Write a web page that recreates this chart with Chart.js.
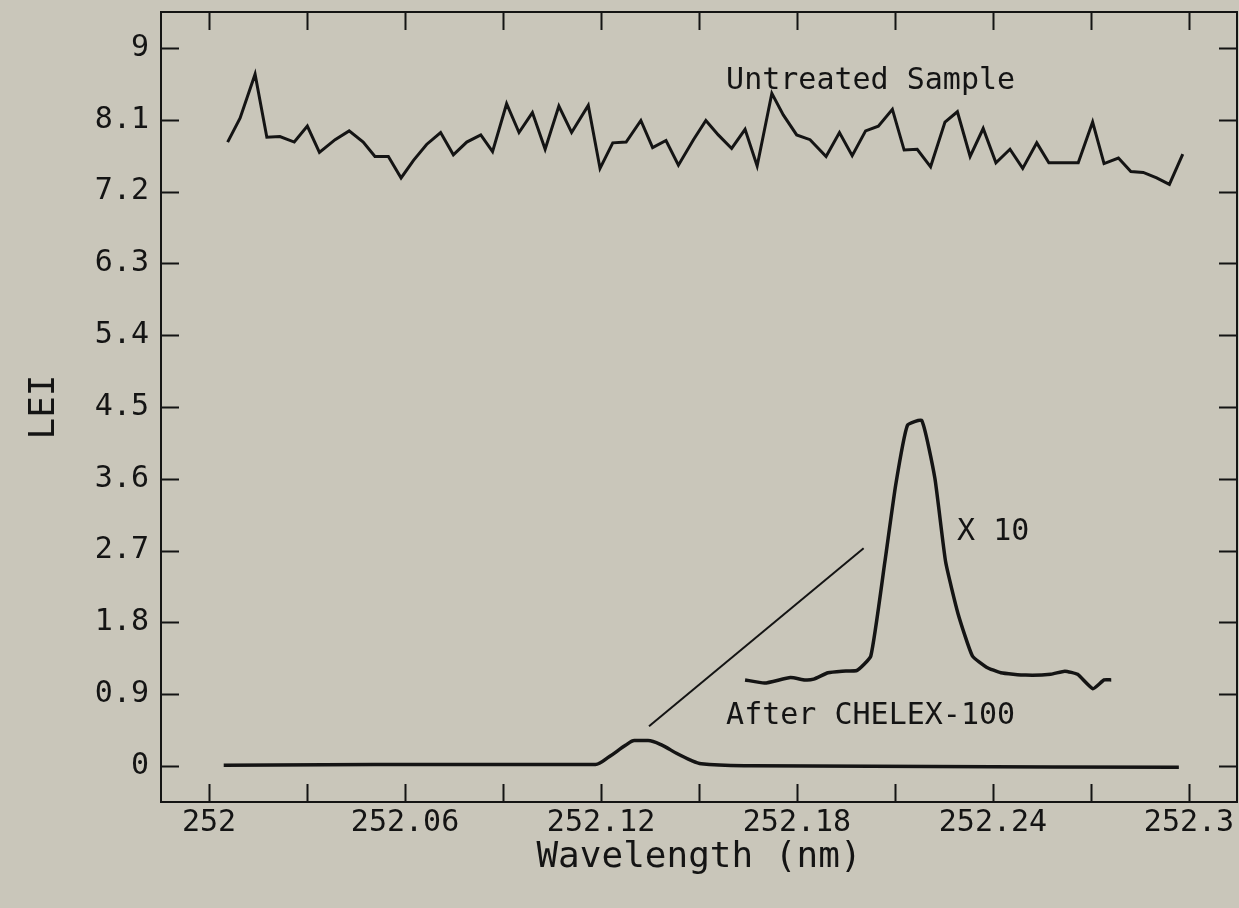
<!DOCTYPE html>
<html>
<head>
<meta charset="utf-8">
<script src="https://cdn.jsdelivr.net/npm/chart.js@4/dist/chart.umd.min.js"></script>
<style>
  html, body { margin: 0; padding: 0; background: #c9c6ba; }
  #wrap { width: 1239px; height: 908px; }
</style>
</head>
<body>
<div id="wrap"><canvas id="grafico"></canvas></div>
<script>
// eixos
const wavelengthTicks = [252, 252.03, 252.06, 252.09, 252.12, 252.15, 252.18, 252.21, 252.24, 252.27, 252.3];
const wavelengthLabels = ['252', '', '252.06', '', '252.12', '', '252.18', '', '252.24', '', '252.3'];
const leiTicks = [0, 0.9, 1.8, 2.7, 3.6, 4.5, 5.4, 6.3, 7.2, 8.1, 9];
const leiLabels = ['0', '0.9', '1.8', '2.7', '3.6', '4.5', '5.4', '6.3', '7.2', '8.1', '9'];

// Untreated Sample
const untreatedWl = [252.0057, 252.0095, 252.0141, 252.0177, 252.0217, 252.0261, 252.0301, 252.0338, 252.0386, 252.0429,
    252.0472, 252.0508, 252.0549, 252.0588, 252.0626, 252.0666, 252.0709, 252.0748, 252.0789, 252.0832,
    252.0868, 252.0911, 252.0949, 252.0990, 252.1029, 252.1071, 252.1110, 252.1161, 252.1197, 252.1236,
    252.1277, 252.1322, 252.1358, 252.1399, 252.1437, 252.1483, 252.1521, 252.1559, 252.1600, 252.1641,
    252.1678, 252.1723, 252.1758, 252.1799, 252.1840, 252.1889, 252.1930, 252.1969, 252.2010, 252.2049,
    252.2092, 252.2128, 252.2168, 252.2209, 252.2253, 252.2291, 252.2330, 252.2370, 252.2409, 252.2452,
    252.2491, 252.2534, 252.2571, 252.2615, 252.2661, 252.2705, 252.2740, 252.2784, 252.2822, 252.2860,
    252.2901, 252.2940, 252.2981];
const untreatedLei = [7.82, 8.12, 8.67, 7.88, 7.89, 7.82, 8.02, 7.69, 7.85, 7.96,
    7.82, 7.64, 7.64, 7.37, 7.59, 7.79, 7.94, 7.66, 7.82, 7.91,
    7.70, 8.30, 7.94, 8.19, 7.73, 8.27, 7.94, 8.28, 7.49, 7.81,
    7.82, 8.09, 7.75, 7.84, 7.53, 7.85, 8.09, 7.91, 7.74, 7.98,
    7.52, 8.43, 8.16, 7.91, 7.85, 7.64, 7.94, 7.65, 7.96, 8.02,
    8.23, 7.72, 7.73, 7.51, 8.07, 8.20, 7.64, 7.99, 7.56, 7.73,
    7.49, 7.81, 7.56, 7.56, 7.56, 8.07, 7.55, 7.62, 7.45, 7.44,
    7.37, 7.29, 7.67];

// After CHELEX-100
const chelexWl = [252.0045, 252.0507, 252.1183, 252.1226, 252.1275, 252.1302, 252.1344, 252.1388, 252.1431, 252.1474, 252.1507, 252.1660, 252.2969];
const chelexLei = [0.01, 0.02, 0.02, 0.12, 0.26, 0.32, 0.32, 0.26, 0.16, 0.075, 0.03, 0.005, -0.015];

// X 10
const x10Wl = [252.1641, 252.1701, 252.1780, 252.1824, 252.1851, 252.1895, 252.1938, 252.1984, 252.2026, 252.2069,
    252.2102, 252.2138, 252.2182, 252.2222, 252.2255, 252.2293, 252.2337, 252.2380, 252.2424, 252.2500,
    252.2577, 252.2620, 252.2659, 252.2706, 252.2740, 252.2762];
const x10Lei = [1.08, 1.04, 1.11, 1.08, 1.09, 1.17, 1.19, 1.20, 1.38, 2.56,
    3.52, 4.27, 4.33, 3.61, 2.56, 1.91, 1.38, 1.24, 1.17, 1.14,
    1.15, 1.19, 1.15, 0.97, 1.08, 1.08];

// linha indicadora
const pointerWl = [252.1347, 252.2004];
const pointerLei = [0.50, 2.73];

// textos
const noteTexts = ['Untreated Sample', 'X 10', 'After CHELEX-100'];
const noteWl = [252.1583, 252.2290, 252.1583];
const noteLei = [8.58, 2.93, 0.62];

const tinta = '#141414';
const fonte = '"DejaVu Sans Mono", "Liberation Mono", monospace';

function pares(xs, ys) {
    return xs.map((x, i) => ({ x: x, y: ys[i] }));
}

const moldura = {
    id: 'moldura',
    beforeDraw(chart) {
        const ctx = chart.ctx;
        ctx.save();
        ctx.fillStyle = '#c9c6ba';
        ctx.fillRect(0, 0, chart.width, chart.height);
        ctx.restore();
    },
    afterDraw(chart) {
        const ctx = chart.ctx;
        const a = chart.chartArea;
        const sx = chart.scales.x;
        const sy = chart.scales.y;
        const tam = 18;
        ctx.save();
        ctx.strokeStyle = tinta;
        ctx.lineWidth = 2;
        ctx.strokeRect(a.left, a.top, a.right - a.left, a.bottom - a.top);
        ctx.beginPath();
        wavelengthTicks.forEach(v => {
            const px = Math.round(sx.getPixelForValue(v)) + 0.5;
            ctx.moveTo(px, a.bottom); ctx.lineTo(px, a.bottom - tam);
            ctx.moveTo(px, a.top); ctx.lineTo(px, a.top + tam);
        });
        leiTicks.forEach(v => {
            const py = Math.round(sy.getPixelForValue(v)) + 0.5;
            ctx.moveTo(a.left, py); ctx.lineTo(a.left + tam, py);
            ctx.moveTo(a.right, py); ctx.lineTo(a.right - tam, py);
        });
        ctx.stroke();

        ctx.fillStyle = tinta;
        ctx.font = '30px ' + fonte;
        ctx.textAlign = 'left';
        ctx.textBaseline = 'middle';
        noteTexts.forEach((t, i) => {
            ctx.fillText(t, sx.getPixelForValue(noteWl[i]), sy.getPixelForValue(noteLei[i]));
        });
        ctx.restore();
    }
};

const ctxGrafico = document.getElementById('grafico').getContext('2d');
new Chart(ctxGrafico, {
    type: 'line',
    data: {
        datasets: [
            {
                label: 'Untreated Sample',
                data: pares(untreatedWl, untreatedLei),
                borderColor: tinta,
                borderWidth: 3,
                pointRadius: 0,
                tension: 0
            },
            {
                label: 'After CHELEX-100',
                data: pares(chelexWl, chelexLei),
                borderColor: tinta,
                borderWidth: 3.5,
                pointRadius: 0,
                cubicInterpolationMode: 'monotone'
            },
            {
                label: 'X 10',
                data: pares(x10Wl, x10Lei),
                borderColor: tinta,
                borderWidth: 3.5,
                pointRadius: 0,
                tension: 0.15
            },
            {
                label: 'pointer',
                data: pares(pointerWl, pointerLei),
                borderColor: tinta,
                borderWidth: 2,
                pointRadius: 0
            }
        ]
    },
    options: {
        responsive: true,
        maintainAspectRatio: false,
        animation: false,
        layout: { padding: { top: 12, right: 2, left: 0, bottom: 0 } },
        plugins: {
            legend: { display: false },
            tooltip: { enabled: false }
        },
        scales: {
            x: {
                type: 'linear',
                min: 251.9853,
                max: 252.3147,
                afterBuildTicks: s => { s.ticks = wavelengthTicks.map(v => ({ value: v })); },
                afterFit: s => {
                    s.height = 106;
                    s.paddingLeft = 0;
                    s.paddingRight = 0;
                },
                grid: { display: false, drawTicks: false },
                border: { display: false },
                ticks: {
                    autoSkip: false,
                    maxRotation: 0,
                    padding: 3,
                    color: tinta,
                    font: { family: fonte, size: 30 },
                    callback: (v, i) => wavelengthLabels[i]
                },
                title: {
                    display: true,
                    text: 'Wavelength (nm)',
                    color: tinta,
                    font: { family: fonte, size: 36 },
                    padding: { top: 0, bottom: 29 }
                }
            },
            y: {
                min: -0.45,
                max: 9.45,
                afterBuildTicks: s => { s.ticks = leiTicks.map(v => ({ value: v })); },
                afterFit: s => {
                    s.width = 161;
                    s.paddingTop = 0;
                    s.paddingBottom = 0;
                },
                grid: { display: false, drawTicks: false },
                border: { display: false },
                ticks: {
                    padding: 12,
                    color: tinta,
                    font: { family: fonte, size: 30 },
                    callback: (v, i) => leiLabels[i]
                },
                title: {
                    display: true,
                    text: 'LEI',
                    color: tinta,
                    font: { family: fonte, size: 36 },
                    padding: { top: 23, bottom: 0 }
                }
            }
        }
    },
    plugins: [moldura]
});
</script>
</body>
</html>
